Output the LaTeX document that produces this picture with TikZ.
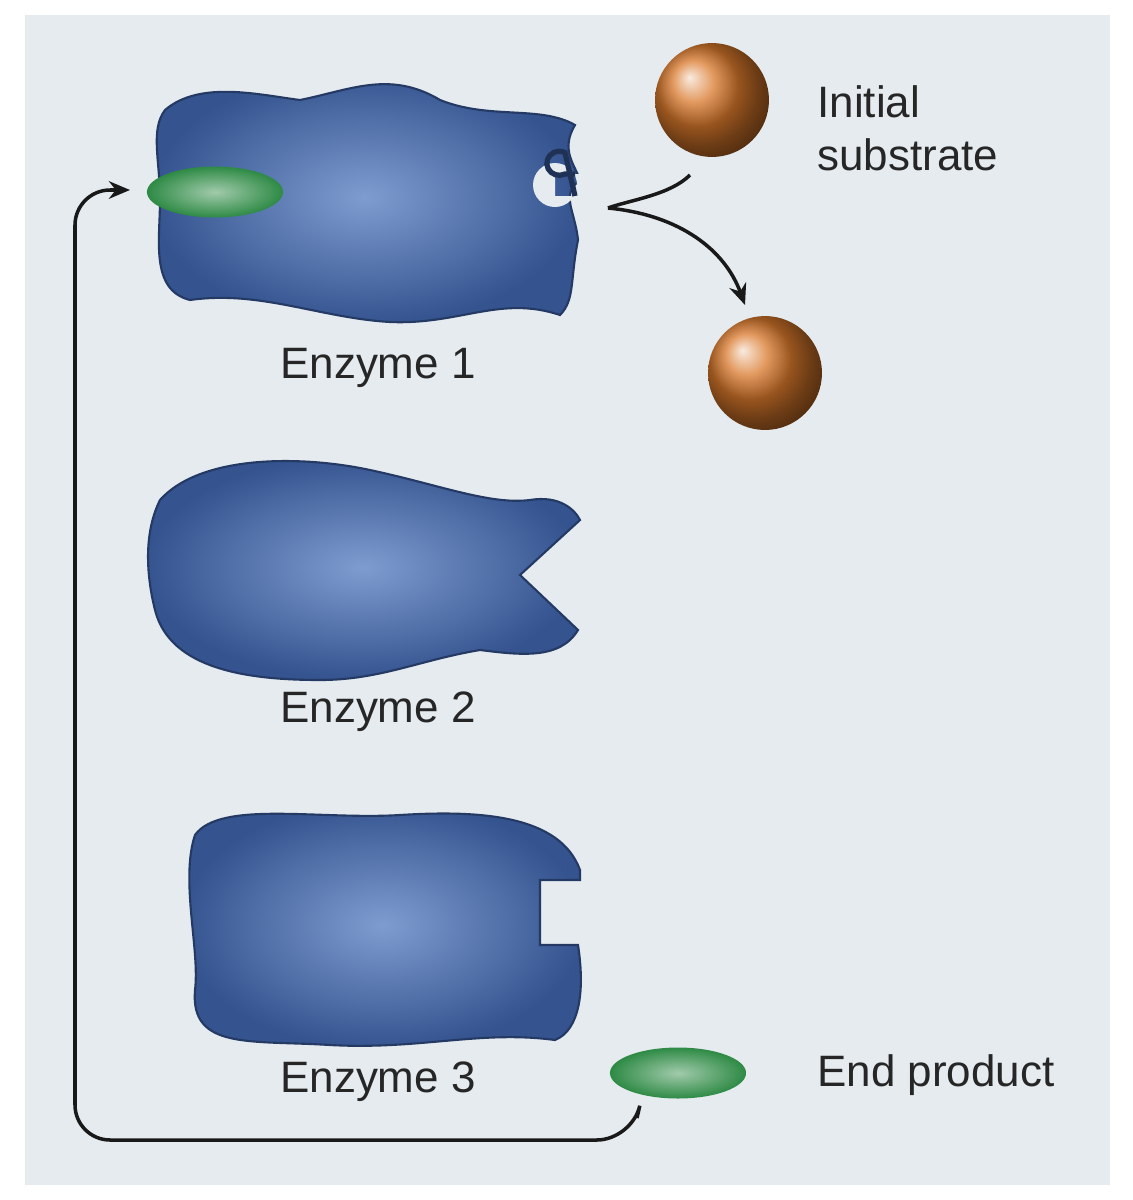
\documentclass[tikz,border=0pt]{standalone}
\usepackage{fontspec}
\setmainfont{Liberation Sans}
\usetikzlibrary{arrows.meta, positioning, shapes.geometric}
\definecolor{panel}{HTML}{E5EBEF}
\definecolor{enz}{HTML}{34538F}
\definecolor{enzlight}{HTML}{7E9CCF}
\definecolor{subst}{HTML}{D9782B}
\definecolor{prod}{HTML}{2E8A45}
\tikzset{
  enzyme/.style={inner color=enzlight, outer color=enz, draw=enz!70!black, line width=0.6pt},
  sphere/.style={circle, minimum size=32.4pt, ball color=subst, inner sep=0pt},
  product/.style={ellipse, minimum width=38.7pt, minimum height=14.5pt, inner color=prod!45!white, outer color=prod, inner sep=0pt},
  lbl/.style={font=\fontsize{12.5}{15}\selectfont, text=black!85},
  flow/.style={-{Stealth[length=6pt,width=5pt]}, line width=1pt, black!90}
}
\begin{document}
\begin{tikzpicture}[x=0.01cm, y=-0.01cm]
\useasboundingbox (0,0) rectangle (1132,1200);
\fill[white] (0,0) rectangle (1132,1200);
\fill[panel] (25,15) rectangle (1110,1185);
% enzyme 1
\shade[enzyme] (165,110) .. controls (200,80) and (260,95) .. (300,100)
  .. controls (350,90) and (390,70) .. (440,100)
  .. controls (490,120) and (540,105) .. (575,125)
  .. controls (560,150) and (575,165) .. (580,180)
  .. controls (560,195) and (575,210) .. (578,240)
  .. controls (570,280) and (575,300) .. (560,315)
  .. controls (500,295) and (460,325) .. (390,322)
  .. controls (320,318) and (260,290) .. (190,300)
  .. controls (150,290) and (160,240) .. (160,200)
  .. controls (160,160) and (150,130) .. (165,110) -- cycle;
\fill[panel] (555,185) circle (22) (555,174) rectangle (590,196);
\draw[enz!60!black, line width=1.5pt] (575,174) -- (565,174) arc (63:297:12.5 and 12) -- (575,196);
% enzyme 2
\shade[enzyme] (160,500) .. controls (200,455) and (300,455) .. (370,470)
  .. controls (440,485) and (490,505) .. (530,500)
  .. controls (560,495) and (575,510) .. (580,520)
  -- (520,575) -- (578,630)
  .. controls (560,660) and (520,655) .. (480,650)
  .. controls (420,660) and (380,680) .. (320,680)
  .. controls (250,680) and (170,670) .. (155,610)
  .. controls (145,570) and (145,530) .. (160,500) -- cycle;
% enzyme 3
\shade[enzyme] (195,835) .. controls (220,800) and (320,820) .. (400,815)
  .. controls (480,810) and (560,815) .. (580,870)
  -- (580,880) -- (540,880) -- (540,945) -- (578,945)
  .. controls (585,990) and (580,1030) .. (555,1040)
  .. controls (480,1030) and (420,1050) .. (330,1045)
  .. controls (250,1040) and (190,1050) .. (195,990)
  .. controls (200,950) and (180,880) .. (195,835) -- cycle;
% molecules
\node[sphere] (substrate) at (712,100) {};
\node[sphere] (result) at (765,373) {};
\node[product] (inhibitor) at (215,192) {};
\node[product] (endprod) at (678,1073) {};
% labels
\node[lbl, anchor=west, align=left] (substratelbl) at (805,128) {Initial\\substrate};
\node[lbl, anchor=west] (endlbl) at (805,1075) {End product};
\node[lbl] (enzlbl1) at (378,368) {Enzyme 1};
\node[lbl] (enzlbl2) at (378,712) {Enzyme 2};
\node[lbl] (enzlbl3) at (378,1082) {Enzyme 3};
% reaction
\coordinate (site) at (608,208);
\coordinate (feedin) at (130,190);
\coordinate (feedout) at (637,1118);
\draw[line width=1pt, black!90] (690,175) .. controls (670,195) and (630,200) .. (site);
\draw[flow] (site) .. controls (680,215) and (725,250) .. (745,305);
% feedback
\draw[flow, rounded corners=10pt] (feedout) -- (632,1140) -- (75,1140) -- (75,190) -- (feedin);
\end{tikzpicture}
\end{document}
